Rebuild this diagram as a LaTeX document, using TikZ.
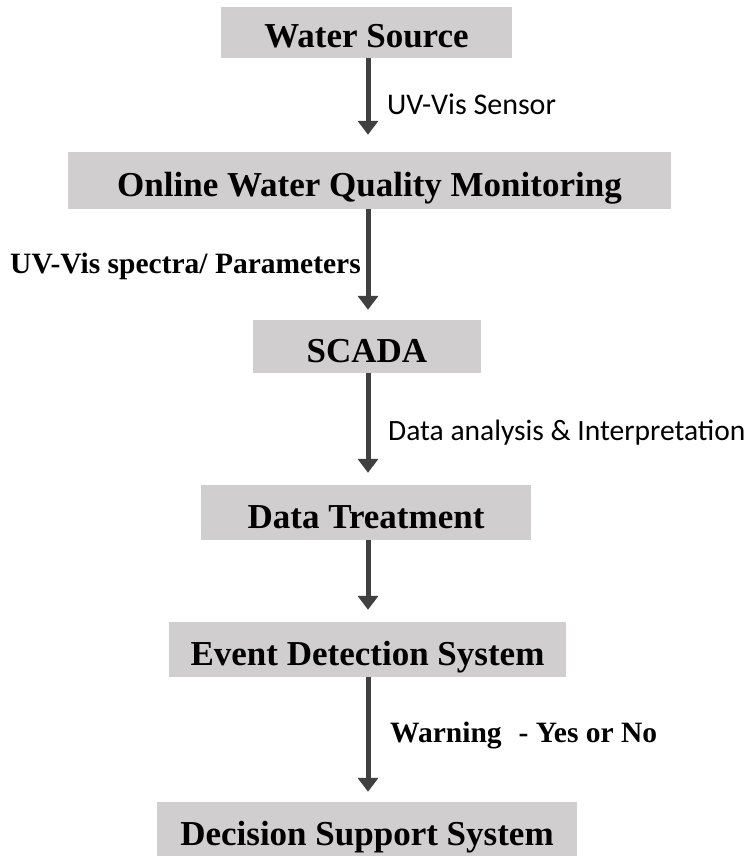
\documentclass[tikz,border=0pt]{standalone}
\usepackage{fontspec}
\setmainfont{Liberation Serif}
\newfontfamily\labelsans{Carlito}
\usetikzlibrary{arrows.meta}
\definecolor{boxgray}{RGB}{208,206,207}
\definecolor{arrowgray}{RGB}{64,64,64}
\begin{document}
\begin{tikzpicture}[x=1pt,y=-1pt,
  stage/.style={fill=boxgray, inner sep=0pt, text height=31pt, text depth=0pt,
    font=\fontsize{35}{40}\selectfont\bfseries, anchor=center},
  flow/.style={draw=arrowgray, line width=5pt, -{Triangle[width=20pt,length=14pt]}},
  sanslabel/.style={font=\labelsans\fontsize{30}{34}\selectfont, anchor=base west, inner sep=0pt},
  seriflabel/.style={font=\fontsize{29.5}{34}\selectfont\bfseries, inner sep=0pt},
]
\useasboundingbox (0,0) rectangle (751,856);
\node[stage, minimum width=291pt, minimum height=51pt] (ws) at (366.5,32.5) {Water Source};
\node[stage, minimum width=603pt, minimum height=57pt] (ol) at (369.5,180.5) {Online Water Quality Monitoring};
\node[stage, minimum width=228pt, minimum height=53pt] (sc) at (367,346.5) {SCADA};
\node[stage, minimum width=330pt, minimum height=55pt] (dt) at (366,512.5) {Data Treatment};
\node[stage, minimum width=397pt, minimum height=55pt] (ed) at (367.5,649.5) {Event Detection System};
\node[stage, minimum width=420pt, minimum height=56pt] (ds) at (367,830) {Decision Support System};
\coordinate (axis) at (368,0);
\draw[flow, shorten >=17pt] (ws.south -| axis) -- (ol.north -| axis);
\draw[flow, shorten >=10pt] (ol.south -| axis) -- (sc.north -| axis);
\draw[flow, shorten >=12pt] (sc.south -| axis) -- (dt.north -| axis);
\draw[flow, shorten >=12pt] (dt.south -| axis) -- (ed.north -| axis);
\draw[flow, shorten >=10pt] (ed.south -| axis) -- (ds.north -| axis);
\node[sanslabel] (l1) at (387,114) {UV-Vis Sensor};
\node[seriflabel, anchor=base east] (l2) at (361,273) {UV-Vis spectra/ Parameters};
\node[sanslabel, font=\labelsans\fontsize{29.5}{34}\selectfont] (l3) at (388,440) {Data analysis \& Interpretation};
\node[seriflabel, anchor=base west] (l4) at (390,742) {Warning\hspace{17pt}- Yes or No};
\end{tikzpicture}
\end{document}
